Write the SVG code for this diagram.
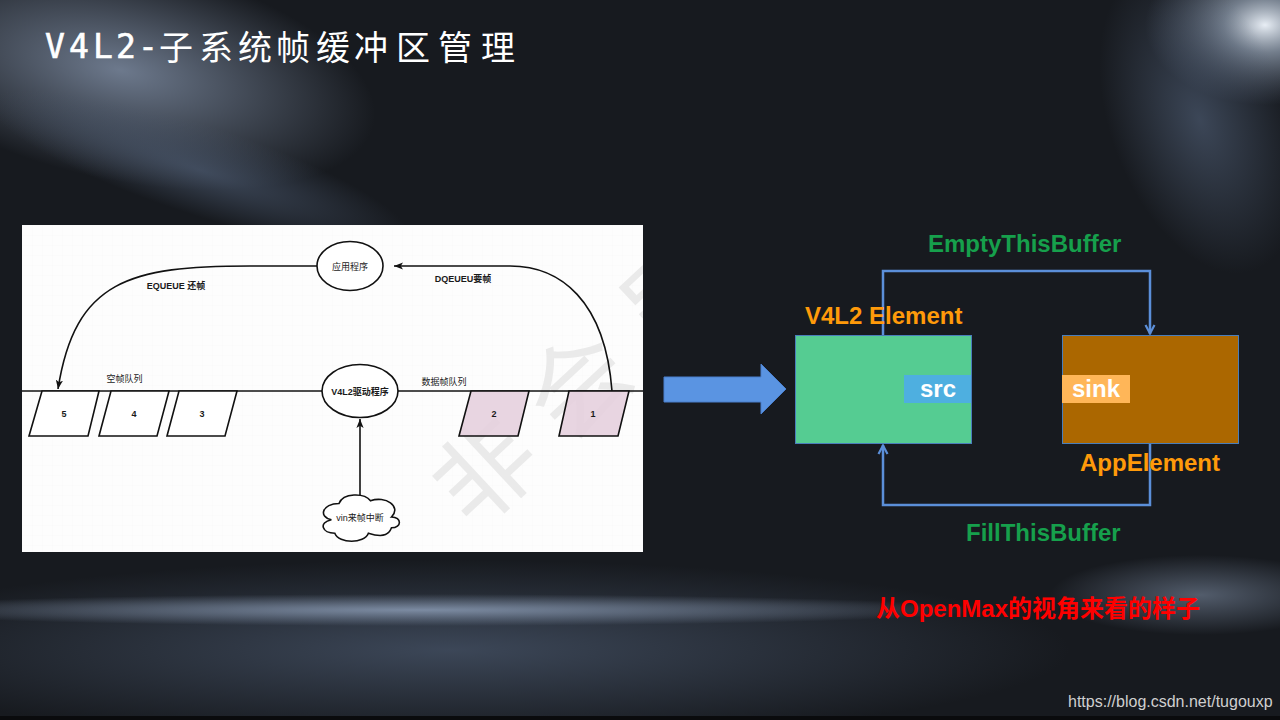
<svg xmlns="http://www.w3.org/2000/svg" width="1280" height="720" viewBox="0 0 1280 720">
<defs>
<style>
.lbl{font-family:"Liberation Sans","Noto Sans CJK SC",sans-serif;font-size:9px;font-weight:bold;fill:#1a1a1a;text-anchor:middle}
.lbln{font-family:"Liberation Sans","Noto Sans CJK SC",sans-serif;font-size:9px;fill:#1a1a1a;text-anchor:middle}
.big{font-family:"Liberation Sans","Noto Sans CJK SC",sans-serif;font-size:24px;font-weight:bold}
.green{fill:#16a04c}
.orange{fill:#ff9a0a}
.white{fill:#ffffff}
.blk{fill:none;stroke:#111;stroke-width:1.6}
.para{stroke:#111;stroke-width:1.6}
.bl{fill:none;stroke:#5b8fd9;stroke-width:2.5}
</style>
<marker id="ab" viewBox="0 0 10 8" refX="10" refY="4" markerWidth="9" markerHeight="7.5" orient="auto" markerUnits="userSpaceOnUse">
<path d="M0,0 L10,4 L0,8 L2.5,4 Z" fill="#111"/>
</marker>
<marker id="ob" viewBox="0 0 12 12" refX="11" refY="6" markerWidth="12" markerHeight="12" orient="auto" markerUnits="userSpaceOnUse">
<path d="M2,1.5 L10.5,6 L2,10.5" fill="none" stroke="#5b8fd9" stroke-width="2.2"/>
</marker>
<radialGradient id="gTL" cx="0.5" cy="0.5" r="0.5">
<stop offset="0" stop-color="#7c8aa0" stop-opacity="0.85"/>
<stop offset="1" stop-color="#7c8aa0" stop-opacity="0"/>
</radialGradient>
<radialGradient id="gTR" cx="0.5" cy="0.5" r="0.5">
<stop offset="0" stop-color="#e8eef5" stop-opacity="1"/>
<stop offset="0.35" stop-color="#9aa8ba" stop-opacity="0.7"/>
<stop offset="1" stop-color="#6a7890" stop-opacity="0"/>
</radialGradient>
<radialGradient id="gBand" cx="0.5" cy="0.5" r="0.5">
<stop offset="0" stop-color="#8595ad" stop-opacity="0.9"/>
<stop offset="1" stop-color="#8595ad" stop-opacity="0"/>
</radialGradient>
<radialGradient id="gHaze" cx="0.5" cy="0.5" r="0.5">
<stop offset="0" stop-color="#4c5a70" stop-opacity="0.7"/>
<stop offset="1" stop-color="#4c5a70" stop-opacity="0"/>
</radialGradient>
<pattern id="grid" width="10" height="10" patternUnits="userSpaceOnUse" x="22" y="225">
<path d="M10,0 L0,0 L0,10" fill="none" stroke="#f4f4f4" stroke-width="0.6"/>
</pattern>
<clipPath id="panelClip"><rect x="22" y="225" width="621" height="327"/></clipPath>
</defs>

<g id="background">
<rect x="0" y="0" width="1280" height="720" fill="#171a1f"/>
<ellipse cx="120" cy="70" rx="260" ry="110" fill="url(#gTL)" transform="rotate(12 120 70)"/>
<ellipse cx="200" cy="170" rx="220" ry="45" fill="url(#gHaze)" transform="rotate(18 200 170)"/>
<ellipse cx="1265" cy="25" rx="120" ry="80" fill="url(#gTR)"/>
<ellipse cx="1200" cy="120" rx="90" ry="160" fill="url(#gHaze)" transform="rotate(-20 1200 120)"/>
<ellipse cx="450" cy="650" rx="620" ry="90" fill="url(#gHaze)"/>
<ellipse cx="420" cy="610" rx="560" ry="16" fill="url(#gBand)"/>
<ellipse cx="1200" cy="595" rx="150" ry="40" fill="url(#gBand)" opacity="0.6"/>
<rect x="0" y="716" width="1280" height="4" fill="#0a0b0d"/>
</g>

<g id="title">
<text font-family="'DejaVu Sans Mono','Noto Sans CJK SC',monospace" font-size="33" fill="#ffffff" stroke="#ffffff" stroke-width="0.6" text-anchor="middle" x="55 79 103 126 148" y="58">V4L2-</text>
<text font-family="'Noto Sans CJK SC',sans-serif" font-size="34" fill="#ffffff" text-anchor="middle" x="176 216 255 293 333 371 413 455 498" y="60">子系统帧缓冲区管理</text>
</g>

<g id="panel">
<rect x="22" y="225" width="621" height="327" fill="#fdfdfd"/>
<rect x="22" y="225" width="621" height="327" fill="url(#grid)"/>
<g clip-path="url(#panelClip)">
<text transform="translate(486,472) rotate(-43)" x="-50" y="35" font-family="'Noto Sans CJK SC',sans-serif" font-size="100" letter-spacing="27" fill="#eaeaea">非会员</text>
</g>
</g>

<g id="connectors">
<line x1="22" y1="391" x2="643" y2="391" class="blk"/>
<path d="M317,266 L250,266 C130,266 75,280 58,389" class="blk" marker-end="url(#ab)"/>
<path d="M612,391 C605,300 560,266 510,266 L394,266" class="blk" marker-end="url(#ab)"/>
<line x1="360" y1="495" x2="360" y2="419" class="blk" marker-end="url(#ab)"/>
<path d="M883,336 L883,271 L1150,271 L1150,334" class="bl" marker-end="url(#ob)"/>
<path d="M1150,444 L1150,505 L883,505 L883,445" class="bl" marker-end="url(#ob)"/>
</g>

<g id="node-app">
<ellipse cx="350" cy="266" rx="33" ry="24.5" fill="#ffffff" class="para"/>
<text class="lbln" x="350" y="269.5">应用程序</text>
</g>
<g id="node-driver">
<ellipse cx="360" cy="391" rx="38" ry="26.5" fill="#ffffff" class="para"/>
<text class="lbl" x="360" y="394.5">V4L2驱动程序</text>
</g>
<g id="node-irq">
<path d="M339,503.5 C322.2,503.5 318,517 331.4,519.7 C318,522.4 322.2,533.2 334.8,533.2 C339,544 364.2,544 368.4,533.2 C385.2,538.6 389.4,533.2 391.5,527.8 C402,527.8 402,517 391.5,517 C402,506.2 385.2,495.4 370.5,500.8 C364.2,492.7 343.2,492.7 339,503.5 Z" fill="#ffffff" class="para"/>
<text class="lbln" x="360" y="520.5">vin来帧中断</text>
</g>
<g id="buf-5">
<polygon points="42,391 99,391 88,436 29,436" fill="#ffffff" class="para"/>
<text class="lbl" x="64" y="417">5</text>
</g>
<g id="buf-4">
<polygon points="111,391 169,391 157,436 99,436" fill="#ffffff" class="para"/>
<text class="lbl" x="134" y="417">4</text>
</g>
<g id="buf-3">
<polygon points="179,391 237,391 225,436 167,436" fill="#ffffff" class="para"/>
<text class="lbl" x="202" y="417">3</text>
</g>
<g id="buf-2">
<polygon points="471,391 529,391 518,436 459,436" fill="#e6d0de" fill-opacity="0.9" class="para"/>
<text class="lbl" x="494" y="417">2</text>
</g>
<g id="buf-1">
<polygon points="569,391 629,391 618,436 559,436" fill="#e6d0de" fill-opacity="0.9" class="para"/>
<text class="lbl" x="593" y="417">1</text>
</g>
<g id="panel-labels">
<text class="lbl" x="176" y="289">EQUEUE 还帧</text>
<text class="lbl" x="463" y="282">DQEUEU要帧</text>
<text class="lbln" x="124.5" y="382">空帧队列</text>
<text class="lbln" x="444" y="385">数据帧队列</text>
</g>

<g id="block-arrow">
<polygon points="664,377 761,377 761,364 786,389 761,414 761,402 664,402" fill="#5a94e2" stroke="#4a7fcc" stroke-width="1"/>
</g>

<g id="node-v4l2-element">
<rect x="795.5" y="335.5" width="176" height="108" fill="#55cc92" stroke="#4a7ebb" stroke-width="1"/>
<rect x="904" y="375" width="67" height="28" fill="#4eafe0"/>
<text class="big white" x="920" y="397">src</text>
<text class="big orange" x="805" y="324">V4L2 Element</text>
</g>
<g id="node-app-element">
<rect x="1062.5" y="335.5" width="176" height="108" fill="#ab6700" stroke="#4a7ebb" stroke-width="1"/>
<rect x="1062" y="375" width="68" height="28" fill="#ffb658"/>
<text class="big white" x="1072" y="397">sink</text>
<text class="big orange" x="1080" y="471">AppElement</text>
</g>
<g id="edge-labels">
<text class="big green" x="928" y="252">EmptyThisBuffer</text>
<text class="big green" x="966" y="541">FillThisBuffer</text>
</g>

<g id="caption">
<text x="876" y="617" font-family="'Liberation Sans','Noto Sans CJK SC',sans-serif" font-size="24" font-weight="bold" fill="#ff0000">从OpenMax的视角来看的样子</text>
</g>
<g id="url">
<text x="1068" y="707" font-family="'Liberation Sans',sans-serif" font-size="16" fill="#cfcfcf">https://blog.csdn.net/tugouxp</text>
</g>
</svg>
